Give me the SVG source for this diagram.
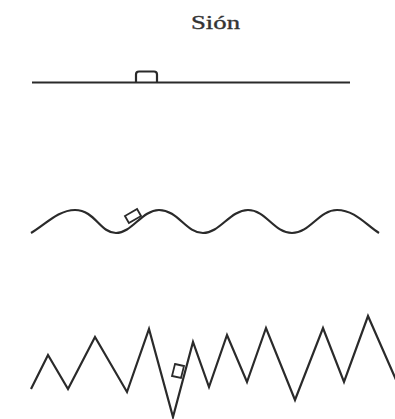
<svg xmlns="http://www.w3.org/2000/svg" width="395" height="419" viewBox="0 0 395 419">
<style>
.ln{fill:none;stroke:#2a2a2a;stroke-width:2.2;stroke-linejoin:miter;stroke-linecap:butt}
.bx{fill:#fff;stroke:#2a2a2a;stroke-width:1.8}
.t{font-family:"Liberation Serif",serif;font-size:18px;fill:#333;stroke:#333;stroke-width:0.35;text-anchor:middle}
</style>
<rect width="395" height="419" fill="#fff"/>
<text class="t" x="215.5" y="29" textLength="49" lengthAdjust="spacingAndGlyphs">Sión</text>
<g id="flat">
<line class="ln" x1="32" y1="82.5" x2="350" y2="82.5"/>
<path class="ln" d="M136,82.5 V74.5 Q136,71.5 139,71.5 H154 Q157,71.5 157,74.5 V82.5"/>
</g>
<g id="wave">
<rect class="bx" x="-7" y="-4" width="14" height="8" transform="translate(133,216) rotate(-30)"/>
<path class="ln" d="M31,233 C45,225 58,210 75,210 C95,210 100,233 116,233 C132,233 142,210 159,210 C178,210 186,233 203,233 C220,233 230,210 248,210 C266,210 274,233 292,233 C310,233 319,210 337,210 C355,210 366,225 379,233"/>
</g>
<g id="zigzag">
<polygon class="bx" points="175,364 184,366 181,378 172,376"/>
<polyline class="ln" points="31,389 48,355 68,389 95,337 127,392 149,329 173,417 193,342 209,387 227,335 247,382 266,328 295,400 323,328 344,382 368,316 397,382"/>
</g>
</svg>
